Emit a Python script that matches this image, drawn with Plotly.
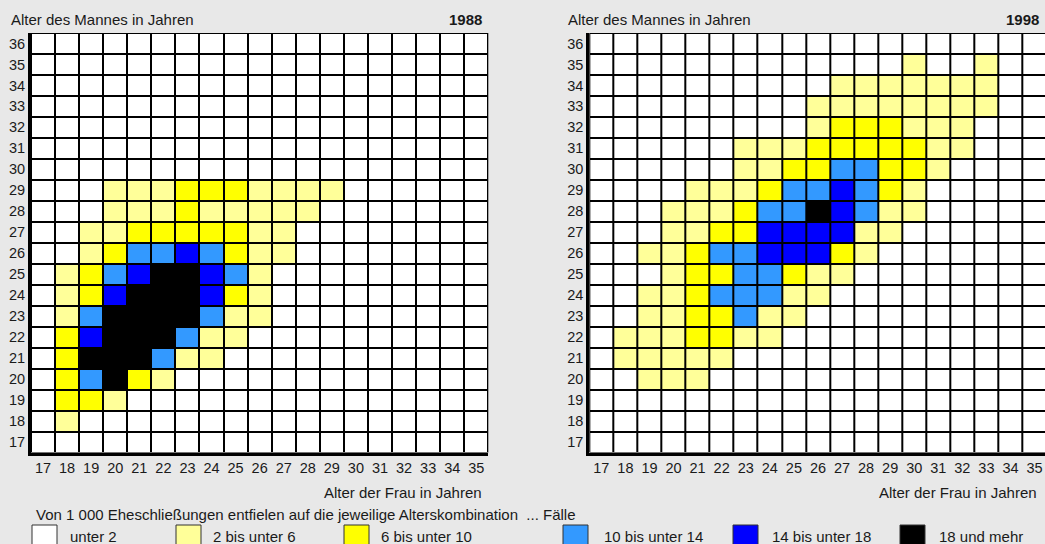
import plotly.graph_objects as go

# Ages
women_ages = list(range(17, 36))   # x: Alter der Frau
men_ages = list(range(17, 37))     # y: Alter des Mannes

# Category codes: 0 unter 2, 1 2-<6, 2 6-<10, 3 10-<14, 4 14-<18, 5 18+
class_labels = ["unter 2", "2 bis unter 6", "6 bis unter 10",
                "10 bis unter 14", "14 bis unter 18", "18 und mehr"]
class_colors = ["#ffffff", "#ffff99", "#ffff00", "#3399ff", "#0000ff", "#000000"]

# rows listed from man's age 36 (top) down to 17 (bottom); columns women 17..35
grid_1988_top_down = [
    [0,0,0,0,0,0,0,0,0,0,0,0,0,0,0,0,0,0,0],  # 36
    [0,0,0,0,0,0,0,0,0,0,0,0,0,0,0,0,0,0,0],  # 35
    [0,0,0,0,0,0,0,0,0,0,0,0,0,0,0,0,0,0,0],  # 34
    [0,0,0,0,0,0,0,0,0,0,0,0,0,0,0,0,0,0,0],  # 33
    [0,0,0,0,0,0,0,0,0,0,0,0,0,0,0,0,0,0,0],  # 32
    [0,0,0,0,0,0,0,0,0,0,0,0,0,0,0,0,0,0,0],  # 31
    [0,0,0,0,0,0,0,0,0,0,0,0,0,0,0,0,0,0,0],  # 30
    [0,0,0,1,1,1,2,2,2,1,1,1,1,0,0,0,0,0,0],  # 29
    [0,0,0,1,1,1,2,1,1,1,1,1,0,0,0,0,0,0,0],  # 28
    [0,0,1,1,2,2,2,2,2,1,1,0,0,0,0,0,0,0,0],  # 27
    [0,0,1,2,3,3,4,3,2,1,1,0,0,0,0,0,0,0,0],  # 26
    [0,1,2,3,4,5,5,4,3,1,0,0,0,0,0,0,0,0,0],  # 25
    [0,1,2,4,5,5,5,4,2,1,0,0,0,0,0,0,0,0,0],  # 24
    [0,1,3,5,5,5,5,3,1,1,0,0,0,0,0,0,0,0,0],  # 23
    [0,2,4,5,5,5,3,1,1,0,0,0,0,0,0,0,0,0,0],  # 22
    [0,2,5,5,5,3,1,1,0,0,0,0,0,0,0,0,0,0,0],  # 21
    [0,2,3,5,2,1,0,0,0,0,0,0,0,0,0,0,0,0,0],  # 20
    [0,2,2,1,0,0,0,0,0,0,0,0,0,0,0,0,0,0,0],  # 19
    [0,1,0,0,0,0,0,0,0,0,0,0,0,0,0,0,0,0,0],  # 18
    [0,0,0,0,0,0,0,0,0,0,0,0,0,0,0,0,0,0,0],  # 17
]

grid_1998_top_down = [
    [0,0,0,0,0,0,0,0,0,0,0,0,0,0,0,0,0,0,0],  # 36
    [0,0,0,0,0,0,0,0,0,0,0,0,0,1,0,0,1,0,0],  # 35
    [0,0,0,0,0,0,0,0,0,0,1,1,1,1,1,1,1,0,0],  # 34
    [0,0,0,0,0,0,0,0,0,1,1,1,1,1,1,1,1,0,0],  # 33
    [0,0,0,0,0,0,0,0,0,1,2,2,2,1,1,1,0,0,0],  # 32
    [0,0,0,0,0,0,1,1,1,2,2,2,2,2,1,1,0,0,0],  # 31
    [0,0,0,0,0,0,1,1,2,2,3,3,2,2,1,0,0,0,0],  # 30
    [0,0,0,0,1,1,1,2,3,3,4,3,2,1,0,0,0,0,0],  # 29
    [0,0,0,1,1,1,2,3,3,5,4,3,1,1,0,0,0,0,0],  # 28
    [0,0,0,1,1,2,2,4,4,4,4,1,1,0,0,0,0,0,0],  # 27
    [0,0,1,1,2,3,3,4,4,4,2,1,0,0,0,0,0,0,0],  # 26
    [0,0,0,1,2,2,3,3,2,1,1,0,0,0,0,0,0,0,0],  # 25
    [0,0,1,1,2,3,3,3,1,1,0,0,0,0,0,0,0,0,0],  # 24
    [0,0,1,1,2,2,3,1,1,0,0,0,0,0,0,0,0,0,0],  # 23
    [0,1,1,1,2,2,1,1,0,0,0,0,0,0,0,0,0,0,0],  # 22
    [0,1,1,1,1,1,0,0,0,0,0,0,0,0,0,0,0,0,0],  # 21
    [0,0,1,1,1,0,0,0,0,0,0,0,0,0,0,0,0,0,0],  # 20
    [0,0,0,0,0,0,0,0,0,0,0,0,0,0,0,0,0,0,0],  # 19
    [0,0,0,0,0,0,0,0,0,0,0,0,0,0,0,0,0,0,0],  # 18
    [0,0,0,0,0,0,0,0,0,0,0,0,0,0,0,0,0,0,0],  # 17
]

years = ["1988", "1998"]

W, H = 1045, 544
BG = "#e8e8e8"
FONT = "Liberation Sans, Arial, sans-serif"
TXT = "#1a1a1a"

def px_x(p):
    return p / W

def px_y(p):
    return (H - p) / H

# discrete colorscale
n = len(class_colors)
colorscale = []
for i, c in enumerate(class_colors):
    colorscale.append([i / n, c])
    colorscale.append([(i + 1) / n, c])

fig = go.Figure()
grids = [grid_1988_top_down, grid_1998_top_down]
for k, g in enumerate(grids):
    z = list(reversed(g))
    fig.add_trace(go.Heatmap(
        x=women_ages, y=men_ages, z=z,
        zmin=-0.5, zmax=n - 0.5,
        colorscale=colorscale, showscale=False,
        xgap=2, ygap=2, hoverinfo="skip",
        xaxis="x" if k == 0 else "x2",
        yaxis="y" if k == 0 else "y2",
    ))

cell_w = (488.3 - 31) / 19
left_dom = [px_x(31), px_x(488.3)]
right_dom = [px_x(589.3), 1.0]
right_max = 16.5 + (W - 589.3) / cell_w
ydom = [px_y(452.5), px_y(33)]

axis_common = dict(
    showgrid=False, zeroline=False, showline=True, linecolor="#000000",
    linewidth=3, ticks="", ticklen=0,
    tickfont=dict(family=FONT, size=14.5, color=TXT), fixedrange=True,
)

fig.update_layout(
    width=W, height=H,
    margin=dict(l=0, r=0, t=0, b=0),
    paper_bgcolor=BG, plot_bgcolor="#000000",
    showlegend=False,
    xaxis=dict(domain=left_dom, range=[16.5, 35.5], tickvals=women_ages,
               ticktext=[str(a) for a in women_ages], anchor="y", **axis_common),
    yaxis=dict(domain=ydom, range=[16.5, 36.5], tickvals=men_ages,
               ticktext=[str(a) for a in men_ages], anchor="x", **axis_common),
    xaxis2=dict(domain=right_dom, range=[16.5, right_max], tickvals=women_ages,
                ticktext=[str(a) for a in women_ages], anchor="y2", **axis_common),
    yaxis2=dict(domain=ydom, range=[16.5, 36.5], tickvals=men_ages,
                ticktext=[str(a) for a in men_ages], anchor="x2", **axis_common),
)

annots = []
def add_text(text, x, y, xanchor="left", bold=False, size=15):
    annots.append(dict(
        text=f"<b>{text}</b>" if bold else text,
        x=px_x(x), y=px_y(y), xref="paper", yref="paper",
        xanchor=xanchor, yanchor="middle", showarrow=False,
        font=dict(family=FONT, size=size, color=TXT),
    ))

# panel headers
add_text("Alter des Mannes in Jahren", 9, 20)
add_text(years[0], 484, 20, xanchor="right", bold=True)
add_text("Alter des Mannes in Jahren", 566, 20)
add_text(years[1], 1041, 20, xanchor="right", bold=True)
# x-axis titles
add_text("Alter der Frau in Jahren", 484, 492, xanchor="right")
add_text("Alter der Frau in Jahren", 1039, 492, xanchor="right")
# legend heading
add_text("Von 1 000 Eheschließungen entfielen auf die jeweilige Alterskombination  ... Fälle", 34, 514)

# legend boxes and labels
legend_box_x = [32, 176, 344, 563, 733, 900]
legend_text_x = [68, 211, 379, 602, 770, 937]
shapes = []
for i, lab in enumerate(class_labels):
    bx = legend_box_x[i]
    shapes.append(dict(
        type="rect", xref="paper", yref="paper",
        x0=px_x(bx), x1=px_x(bx + 25), y0=px_y(560), y1=px_y(525),
        fillcolor=class_colors[i], line=dict(color="#333333", width=1),
    ))
    add_text(lab, legend_text_x[i], 536)

fig.update_layout(annotations=annots, shapes=shapes)

fig.write_html(
    "out.html",
    config={"displayModeBar": False, "staticPlot": True},
    post_script="document.body.style.margin='0';document.body.style.overflow='hidden';document.body.style.background='#e8e8e8';",
)
